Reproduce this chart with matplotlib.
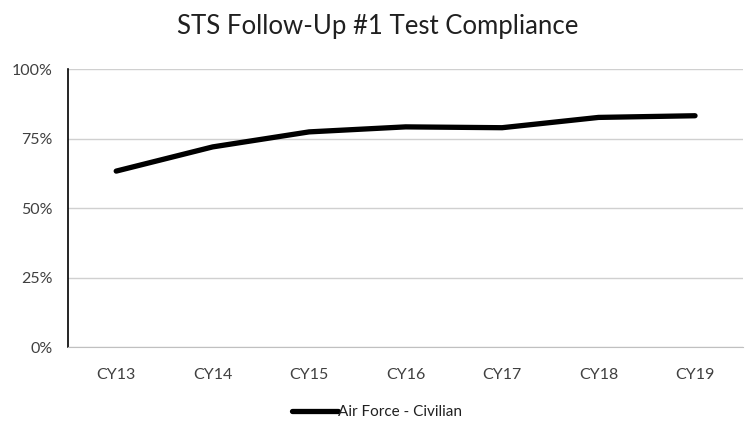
import matplotlib.pyplot as plt
import numpy as np
from matplotlib.ticker import FuncFormatter

plt.rcParams['font.family'] = ['Lato', 'DejaVu Sans']

years = ['CY13', 'CY14', 'CY15', 'CY16', 'CY17', 'CY18', 'CY19']
compliance = [0.633, 0.720, 0.774, 0.792, 0.789, 0.826, 0.832]
series_name = 'Air Force - Civilian'

fig = plt.figure(figsize=(7.47, 4.26), dpi=100)
ax = fig.add_axes([0.091, 0.185, 0.904, 0.653])

x = np.arange(len(years))
ax.plot(x, compliance, color='black', linewidth=3.8, solid_capstyle='round',
        solid_joinstyle='round', label=series_name)

ax.set_xlim(-0.5, len(years) - 0.5)
ax.set_ylim(0, 1)
ax.set_yticks([0, 0.25, 0.5, 0.75, 1.0])
ax.yaxis.set_major_formatter(FuncFormatter(lambda v, _: f'{v:.0%}'))
ax.set_xticks(x)
ax.set_xticklabels(years)
ax.tick_params(length=0, labelsize=11.5, labelcolor='#404040')
ax.tick_params(axis='x', pad=15)
ax.tick_params(axis='y', pad=11)

ax.grid(axis='y', color='#d0d0d0', linewidth=1)
ax.set_axisbelow(True)
for s in ['top', 'right']:
    ax.spines[s].set_visible(False)
ax.spines['left'].set_color('black')
ax.spines['left'].set_linewidth(1.2)
ax.spines['bottom'].set_color('#c0c0c0')

fig.text(0.505, 0.92, 'STS Follow-Up #1 Test Compliance', fontsize=18.5,
         ha='center', va='baseline', color='#202020')
fig.legend(loc='center', bbox_to_anchor=(0.505, 0.033), frameon=False,
           fontsize=11, handlelength=3.0, handletextpad=0.0,
           labelcolor='#202020')

fig.savefig('out.png', dpi=100)
